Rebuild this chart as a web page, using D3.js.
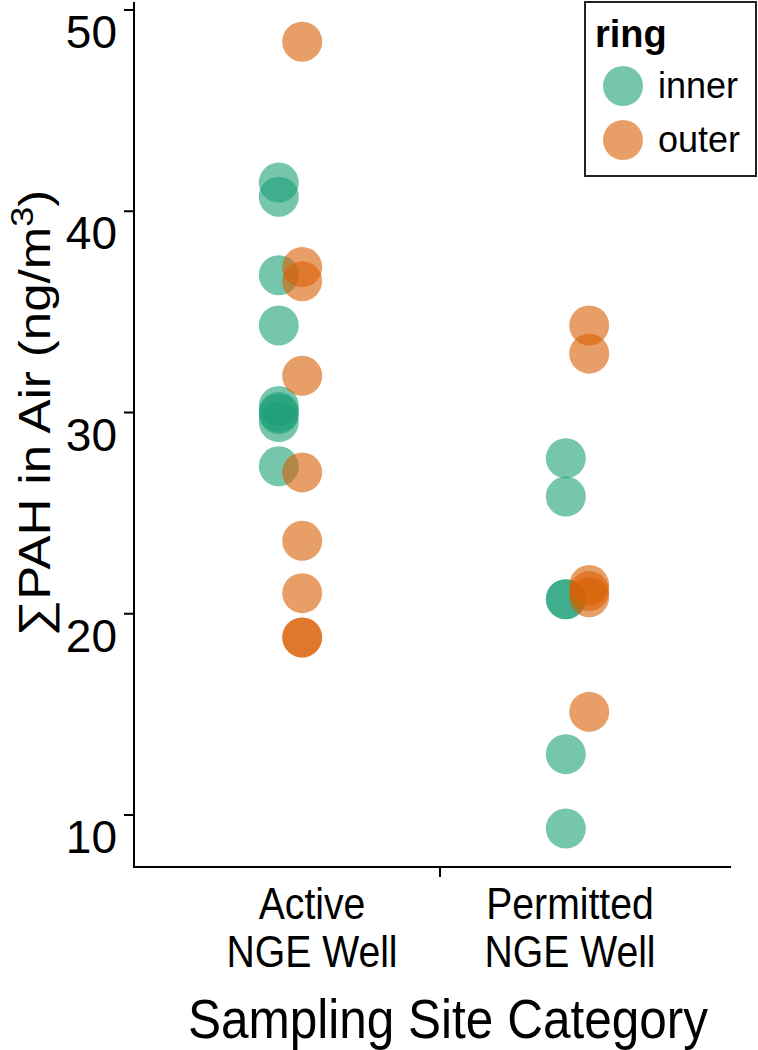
<!DOCTYPE html>
<html>
<head>
<meta charset="utf-8">
<script src="https://cdn.jsdelivr.net/npm/d3@7"></script>
<style>
  html, body { margin: 0; padding: 0; background: #fff; }
  svg { display: block; font-family: "Liberation Sans", Arial, sans-serif; }
</style>
</head>
<body>
<svg id="chart" width="758" height="1050"></svg>
<script>
// ---- data ----
const categories = ["Active NGE Well", "Permitted NGE Well"];
const categoryLines = [["Active", "NGE Well"], ["Permitted", "NGE Well"]];
const rings = ["inner", "outer"];
const activeInner = [41.4, 40.7, 36.8, 34.3, 30.3, 30.0, 29.9, 29.5, 27.3];
const activeOuter = [48.4, 37.2, 36.5, 31.8, 27.0, 23.6, 21.0, 18.8, 18.8];
const permittedInner = [27.7, 25.8, 20.7, 20.7, 13.0, 9.3];
const permittedOuter = [34.3, 32.9, 21.4, 21.1, 20.8, 15.1];
const yTicks = [10, 20, 30, 40, 50];
const ringColors = ["#1b9e77", "#d95f02"];

const points = [];
[[activeInner, activeOuter], [permittedInner, permittedOuter]].forEach((pair, ci) => {
  pair.forEach((vals, ri) => {
    vals.forEach(v => points.push({cat: categories[ci], ring: rings[ri], value: v}));
  });
});

// ---- layout ----
const svg = d3.select("#chart");
const axisLeft = 134, axisRight = 731, axisTop = 2, axisBottom = 867;

const y = d3.scaleLinear().domain([10, 50]).range([814.5, 9.5]);
const x = d3.scalePoint().domain(categories).range([290.5, 577.5]);
const dodge = d3.scalePoint().domain(rings).range([-11.7, 11.7]);
const color = d3.scaleOrdinal().domain(rings).range(ringColors);

// points
svg.append("g").selectAll("circle").data(points).join("circle")
  .attr("cx", d => x(d.cat) + dodge(d.ring))
  .attr("cy", d => y(d.value))
  .attr("r", 20)
  .attr("fill", d => color(d.ring))
  .attr("fill-opacity", 0.6);

// y axis
const yAxis = d3.axisLeft(y).tickValues(yTicks).tickSize(10).tickFormat(d3.format("d"));
const gy = svg.append("g").attr("transform", `translate(${axisLeft},0)`).call(yAxis);
gy.select(".domain").remove();
gy.selectAll(".tick line").attr("stroke", "#000").attr("stroke-width", 2);
gy.selectAll(".tick text")
  .attr("x", -17).attr("dy", "0").attr("y", 38)
  .attr("font-size", 46).attr("fill", "#000")
  .attr("font-family", "Liberation Sans, Arial, sans-serif");

svg.append("line").attr("x1", axisLeft).attr("x2", axisLeft)
  .attr("y1", axisTop).attr("y2", axisBottom + 1)
  .attr("stroke", "#000").attr("stroke-width", 2);
svg.append("line").attr("x1", axisLeft - 1).attr("x2", axisRight)
  .attr("y1", axisBottom).attr("y2", axisBottom)
  .attr("stroke", "#000").attr("stroke-width", 2);

// single x tick between categories
const xMid = (x(categories[0]) + x(categories[1])) / 2 + 6;
svg.append("line").attr("x1", xMid).attr("x2", xMid)
  .attr("y1", axisBottom).attr("y2", axisBottom + 10)
  .attr("stroke", "#000").attr("stroke-width", 2);

// x category labels
const labelX = [312, 570];
categoryLines.forEach((lines, i) => {
  lines.forEach((t, j) => {
    svg.append("text")
      .attr("transform", `translate(${labelX[i]},${919 + j * 48}) scale(0.89,1)`)
      .attr("text-anchor", "middle")
      .attr("font-size", 44)
      .attr("fill", "#000")
      .text(t);
  });
});

// x title
svg.append("text")
  .attr("transform", `translate(448,1038) scale(0.9,1)`)
  .attr("text-anchor", "middle")
  .attr("font-size", 55)
  .attr("fill", "#000")
  .text("Sampling Site Category");

// y title
const yt = svg.append("text")
  .attr("transform", `translate(50,413) rotate(-90) scale(1,0.88)`)
  .attr("text-anchor", "middle")
  .attr("font-size", 51)
  .attr("fill", "#000");
yt.append("tspan").text("∑PAH in Air (ng/m");
yt.append("tspan").attr("font-size", 36).attr("dy", -19).text("3");
yt.append("tspan").attr("dy", 19).text(")");

// legend
const lg = svg.append("g");
lg.append("rect").attr("x", 585).attr("y", 2).attr("width", 171).attr("height", 174)
  .attr("fill", "#fff").attr("stroke", "#222").attr("stroke-width", 2);
lg.append("text").attr("x", 595).attr("y", 47).attr("font-size", 38)
  .attr("font-weight", "bold").attr("fill", "#000").text("ring");
rings.forEach((r, i) => {
  lg.append("circle").attr("cx", 623).attr("cy", 86 + i * 54).attr("r", 20)
    .attr("fill", color(r)).attr("fill-opacity", 0.6);
  lg.append("text").attr("x", 658).attr("y", 98 + i * 54).attr("font-size", 36)
    .attr("fill", "#000").text(r);
});
</script>
</body>
</html>
